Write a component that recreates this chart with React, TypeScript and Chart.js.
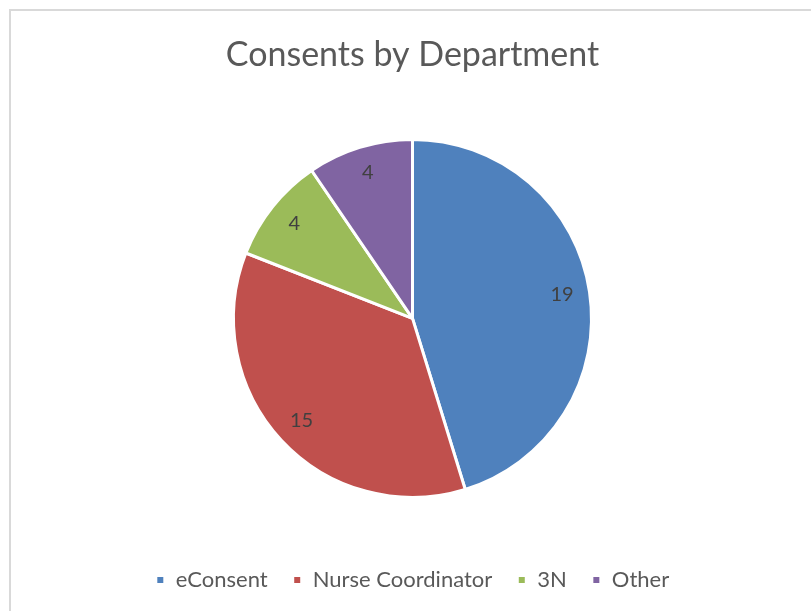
import React, { useEffect, useRef } from "react";
import { Chart, registerables } from "chart.js";

Chart.register(...registerables);

const TITLE = "Consents by Department";
const categories = ["eConsent", "Nurse Coordinator", "3N", "Other"];
const values = [19, 15, 4, 4];
const colors = ["#4F81BD", "#C0504D", "#9BBB59", "#8064A2"];

const FONT = "Lato, 'Open Sans', sans-serif";

const dataLabelPlugin = {
  id: "sliceLabels",
  afterDatasetsDraw(chart: any) {
    const ctx = chart.ctx;
    const meta = chart.getDatasetMeta(0);
    const ds = chart.data.datasets[0];
    ctx.save();
    ctx.font = `20px ${FONT}`;
    ctx.fillStyle = "#404040";
    ctx.textAlign = "center";
    ctx.textBaseline = "middle";
    meta.data.forEach((arc: any, i: number) => {
      const p = arc.getProps(["x", "y", "startAngle", "endAngle", "outerRadius"], true);
      const mid = (p.startAngle + p.endAngle) / 2;
      const r = p.outerRadius * 0.845;
      ctx.fillText(String(ds.data[i]), p.x + Math.cos(mid) * r, p.y + Math.sin(mid) * r - 1);
    });
    ctx.restore();
  },
};

export default function App() {
  const ref = useRef<HTMLCanvasElement | null>(null);
  useEffect(() => {
    if (!ref.current) return;
    const chart = new Chart(ref.current, {
      type: "pie",
      data: {
        labels: categories,
        datasets: [
          {
            data: values,
            backgroundColor: colors,
            borderColor: "#ffffff",
            borderWidth: 3,
            radius: 179,
          } as any,
        ],
      },
      options: {
        responsive: false,
        animation: false,
        layout: { padding: { left: 14, right: 0, top: 0, bottom: 10 } },
        plugins: {
          title: {
            display: true,
            text: TITLE,
            color: "#595959",
            font: { family: FONT, size: 34, weight: "normal" },
            padding: { top: 35, bottom: 17 },
          },
          legend: {
            display: true,
            position: "bottom",
            labels: {
              color: "#595959",
              font: { family: FONT, size: 22 },
              boxWidth: 9,
              boxHeight: 9,
              padding: 25,
            },
          },
          tooltip: { enabled: false },
        },
      },
      plugins: [dataLabelPlugin],
    });
    return () => chart.destroy();
  }, []);

  return (
    <div style={{ position: "absolute", left: 0, top: 0, width: 811, height: 611, overflow: "hidden", background: "#fff" }}>
      <div
        style={{
          position: "absolute",
          left: 9,
          top: 9,
          width: 812,
          height: 700,
          border: "2px solid #d9d9d9",
          boxSizing: "border-box",
        }}
      />
      <canvas ref={ref} width={811} height={611} style={{ position: "absolute", left: 0, top: 0 }} />
    </div>
  );
}
